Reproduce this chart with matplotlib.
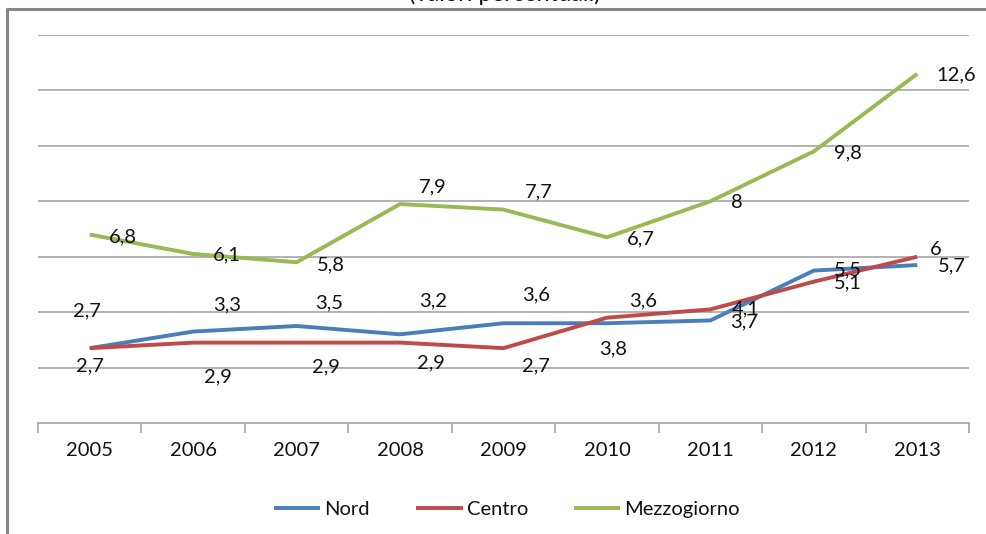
#!/usr/bin/env python3

# Line chart: regional percentages 2005-2013 (Nord, Centro, Mezzogiorno)

import matplotlib
matplotlib.use('Agg')
import matplotlib.pyplot as plt
from matplotlib.lines import Line2D

plt.rcParams['font.family'] = ['Lato', 'DejaVu Sans']

# Data
years = ['2005', '2006', '2007', '2008', '2009', '2010', '2011', '2012', '2013']
nord = [2.7, 3.3, 3.5, 3.2, 3.6, 3.6, 3.7, 5.5, 5.7]
centro = [2.7, 2.9, 2.9, 2.9, 2.7, 3.8, 4.1, 5.1, 6.0]
mezzogiorno = [6.8, 6.1, 5.8, 7.9, 7.7, 6.7, 8.0, 9.8, 12.6]

# Label offsets (pixels, x right / y down) as placed in the original chart
nord_off = [(-3, -37), (34, -27), (33, -23), (33, -33), (33, -28),
            (36, -22), (34, 1), (34, -1), (35, 1)]
centro_off = [(0, 18), (25, 34), (29, 24), (31, 20), (32, 18),
              (6, 31), (35, 0), (34, 1), (18, -7)]
mezz_off = [(33, 2), (34, 1), (34, 3), (33, -17), (35, -18),
            (34, 2), (26, 1), (34, 1), (39, 1)]

colors = ['#4a7ebb', '#be4b48', '#98b954']
fs = 14.5

W, H = 986, 534
fig = plt.figure(figsize=(W / 100, H / 100), dpi=100)
ax = fig.add_axes([38 / W, (H - 423) / H, (969 - 38) / W, (423 - 35) / H])

x = range(len(years))
series = [('Nord', nord, nord_off), ('Centro', centro, centro_off),
          ('Mezzogiorno', mezzogiorno, mezz_off)]

for (name, vals, offs), col in zip(series, colors):
    ax.plot(x, vals, color=col, linewidth=2.8, label=name, zorder=3,
            solid_capstyle='butt')
    for xi, v, (dx, dy) in zip(x, vals, offs):
        txt = ('%g' % v).replace('.', ',')
        ax.annotate(txt, (xi, v), xytext=(dx, -dy), textcoords='offset pixels',
                    ha='center', va='center', fontsize=fs, color='#111111',
                    zorder=4)

# Axes
ax.set_xlim(-0.5, len(years) - 0.5)
ax.set_ylim(0, 14)
ax.set_yticks(range(2, 15, 2))
ax.yaxis.grid(True, color='#a6a6a6', linewidth=1.2)
ax.set_axisbelow(True)
ax.tick_params(axis='y', left=False, labelleft=False)
ax.set_xticks(x)
ax.set_xticklabels(years, fontsize=fs, color='#111111')
ax.set_xticks([i - 0.5 for i in range(len(years) + 1)], minor=True)
ax.tick_params(axis='x', which='major', length=0, pad=14)
ax.tick_params(axis='x', which='minor', length=7, width=1.2, color='#a6a6a6')
for s in ['top', 'right', 'left']:
    ax.spines[s].set_visible(False)
ax.spines['bottom'].set_color('#a6a6a6')
ax.spines['bottom'].set_linewidth(1.2)

# Legend
leg = ax.legend(loc='center', bbox_to_anchor=(507 / W, (H - 509) / H),
                bbox_transform=fig.transFigure, ncol=3, frameon=False,
                fontsize=fs, handlelength=2.3, handletextpad=0.2,
                columnspacing=2.3)
for t in leg.get_texts():
    t.set_color('#111111')

# Chart frame (partially cropped) and clipped title
fig.add_artist(Line2D([7 / W, 7 / W, 1.0], [0.0, 1 - 9 / H, 1 - 9 / H],
                      transform=fig.transFigure, color='#868686', linewidth=2.2))
fig.text(505 / W, 1 - 1 / H, '(valori percentuali)', ha='center', va='baseline',
         fontsize=17, color='#111111')

plt.savefig('out.png', dpi=100)
